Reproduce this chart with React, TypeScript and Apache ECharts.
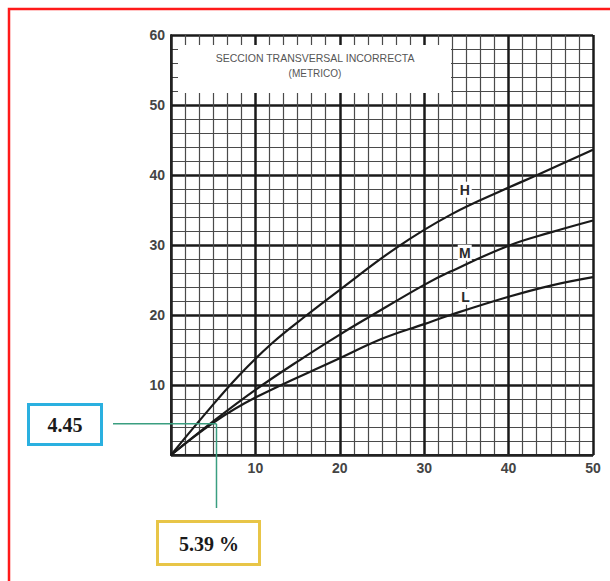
import React, { useEffect, useRef } from "react";
import * as echarts from "echarts";

// Curve H (x = % , y = value)
const hX = [0, 4, 8, 12, 16.1, 20, 26.7, 33.1, 40, 43.4, 50];
const hY = [0, 5.8, 11.3, 16, 20, 23.6, 29.6, 34.3, 38.2, 40, 43.6];
// Curve M
const mX = [0, 5, 10, 15.3, 20, 23.6, 30, 33.1, 40, 45, 50];
const mY = [0, 4.8, 9.3, 13.6, 17.2, 19.8, 24.3, 26.2, 29.9, 31.8, 33.5];
// Curve L
const lX = [0, 5, 10, 19.6, 25, 30, 33.1, 40, 45, 50];
const lY = [0, 4.6, 8.2, 13.6, 16.6, 18.7, 20, 22.6, 24.2, 25.4];

const curveNames = ["H", "M", "L"];
const readX = 5.39;
const readY = 4.45;
const readXText = "5.39 %";
const readYText = "4.45";
const titleLines = ["SECCION TRANSVERSAL INCORRECTA", "(METRICO)"];

const zip = (xs: number[], ys: number[]) => xs.map((x, i) => [x, ys[i]]);

export default function App() {
  const ref = useRef<HTMLDivElement>(null);
  useEffect(() => {
    document.body.style.margin = "0";
    if (!ref.current) return;
    const chart = echarts.init(ref.current, null, { renderer: "svg" });
    const labelPos: Record<string, number[]> = {
      H: [34.8, 37.9],
      M: [34.8, 28.9],
      L: [34.9, 22.6],
    };
    const curves = [zip(hX, hY), zip(mX, mY), zip(lX, lY)];
    const axisLabel = {
      showMinLabel: false,
      fontSize: 14,
      fontWeight: "bold" as const,
      color: "#444",
      fontFamily: "Liberation Sans",
      margin: 6,
    };
    const minorStyle = { color: "#4a4a4a", width: 1.2 };
    chart.setOption({
      animation: false,
      grid: { left: 171, right: 17, top: 35, bottom: 126 },
      xAxis: {
        type: "value",
        min: 0,
        max: 50,
        interval: 10,
        axisLine: { show: true, lineStyle: { color: "#222", width: 2 } },
        axisTick: { show: false },
        axisLabel,
        splitLine: { show: true, lineStyle: { color: "#1a1a1a", width: 2.5 } },
        minorTick: { show: false, splitNumber: 6 },
        minorSplitLine: { show: true, lineStyle: minorStyle },
      },
      yAxis: {
        type: "value",
        min: 0,
        max: 60,
        interval: 10,
        axisLine: { show: true, lineStyle: { color: "#222", width: 2 } },
        axisTick: { show: false },
        axisLabel,
        splitLine: { show: true, lineStyle: { color: "#1a1a1a", width: 2.5 } },
        minorTick: { show: false, splitNumber: 5 },
        minorSplitLine: { show: true, lineStyle: minorStyle },
      },
      series: curveNames.map((name, i) => ({
        name,
        type: "line",
        data: curves[i],
        smooth: 0.4,
        showSymbol: false,
        silent: true,
        lineStyle: { color: "#1a1a1a", width: 2.2 },
        markPoint: {
          silent: true,
          symbol: "rect",
          symbolSize: [14, 16],
          itemStyle: { color: "#fff" },
          label: {
            show: true,
            formatter: () => name,
            color: "#2a2a2a",
            fontSize: 14,
            fontWeight: "bold",
            fontFamily: "Liberation Sans",
          },
          data: [{ coord: labelPos[name] }],
        },
      })),
    });
    const p = chart.convertToPixel({ xAxisIndex: 0, yAxisIndex: 0 }, [readX, readY]) as number[];
    const green = "#3a9e80";
    chart.setOption({
      graphic: [
        {
          type: "rect",
          z: 10,
          shape: { x: 9, y: 9, width: 640, height: 620 },
          style: { fill: "none", stroke: "#ff1a1a", lineWidth: 2.5 },
        },
        {
          type: "rect",
          z: 10,
          shape: { x: 178, y: 45, width: 273, height: 48 },
          style: { fill: "#fff" },
        },
        {
          type: "text",
          z: 11,
          x: 315,
          y: 58,
          style: {
            text: titleLines[0],
            font: "10.5px 'Liberation Sans'",
            fill: "#555",
            align: "center",
            verticalAlign: "middle",
          },
        },
        {
          type: "text",
          z: 11,
          x: 315,
          y: 73,
          style: {
            text: titleLines[1],
            font: "10px 'Liberation Sans'",
            fill: "#555",
            align: "center",
            verticalAlign: "middle",
          },
        },
        {
          type: "line",
          z: 12,
          shape: { x1: 113, y1: p[1], x2: p[0], y2: p[1] },
          style: { stroke: green, lineWidth: 1.5 },
        },
        {
          type: "line",
          z: 12,
          shape: { x1: p[0], y1: p[1], x2: p[0], y2: 508 },
          style: { stroke: green, lineWidth: 1.5 },
        },
        {
          type: "rect",
          z: 12,
          shape: { x: 28.5, y: 404.5, width: 73, height: 40 },
          style: { fill: "#fff", stroke: "#2ab0e0", lineWidth: 3 },
        },
        {
          type: "text",
          z: 13,
          x: 65,
          y: 425,
          style: {
            text: readYText,
            font: "bold 20px 'Liberation Serif'",
            fill: "#1a1a1a",
            align: "center",
            verticalAlign: "middle",
          },
        },
        {
          type: "rect",
          z: 12,
          shape: { x: 157.5, y: 521.5, width: 102, height: 43 },
          style: { fill: "#fff", stroke: "#e8c547", lineWidth: 3 },
        },
        {
          type: "text",
          z: 13,
          x: 209,
          y: 544,
          style: {
            text: readXText,
            font: "bold 20px 'Liberation Serif'",
            fill: "#1a1a1a",
            align: "center",
            verticalAlign: "middle",
          },
        },
      ],
    });
    return () => chart.dispose();
  }, []);
  return <div ref={ref} style={{ width: 610, height: 581 }} />;
}
